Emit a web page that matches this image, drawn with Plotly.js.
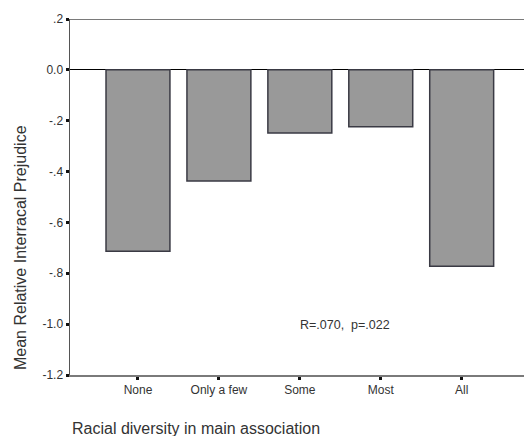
<!DOCTYPE html>
<html>
<head>
<meta charset="utf-8">
<script src="https://cdn.plot.ly/plotly-3.0.1.min.js"></script>
<style>html,body{margin:0;padding:0;background:#fff;overflow:hidden;width:524px;height:436px}#chart{width:524px;height:436px}</style>
</head>
<body>
<div id="chart"></div>
<script>
var categories = ["None", "Only a few", "Some", "Most", "All"];
var meanPrejudice = [-0.713, -0.437, -0.248, -0.224, -0.772];
var yTickVals = [0.2, 0, -0.2, -0.4, -0.6, -0.8, -1.0, -1.2];
var yTickText = [".2", "0.0", "-.2", "-.4", "-.6", "-.8", "-1.0", "-1.2"];
var statText = "R=.070,  p=.022";

var trace = {
  type: "bar",
  x: [0, 1, 2, 3, 4],
  y: meanPrejudice,
  width: 0.79,
  marker: {color: "#999999", line: {color: "#3a3a44", width: 1.5}},
  hoverinfo: "none"
};

var layout = {
  width: 524, height: 436,
  margin: {l: 70, r: 0, t: 19, b: 61},
  paper_bgcolor: "#fff", plot_bgcolor: "#fff",
  font: {family: "Liberation Sans, Arial, sans-serif", size: 12, color: "#333"},
  showlegend: false,
  xaxis: {
    range: [-0.84, 4.77],
    tickvals: [0, 1, 2, 3, 4],
    ticktext: categories,
    showgrid: false, zeroline: false,
    showline: true, mirror: false, linecolor: "#7a7a7a", linewidth: 2,
    ticks: "outside", ticklen: 3, tickwidth: 3, tickcolor: "#111",
    tickfont: {size: 12, color: "#333"}
  },
  yaxis: {
    range: [-1.2, 0.2],
    tickvals: yTickVals,
    ticktext: yTickText,
    showgrid: false,
    zeroline: true, zerolinecolor: "#000", zerolinewidth: 1,
    showline: true, mirror: false, linecolor: "#555", linewidth: 1.5,
    ticks: "outside", ticklen: 3, tickwidth: 3, tickcolor: "#111",
    tickfont: {size: 12, color: "#333"}
  },
  shapes: [
    {type: "line", xref: "paper", yref: "y", x0: 0, x1: 1, y0: 0.2, y1: 0.2,
     line: {color: "#7a7a7a", width: 2}}
  ],
  annotations: [
    {text: statText, x: 2.56, y: -1.004, xref: "x", yref: "y", showarrow: false,
     font: {size: 12.5, color: "#333"}},
    {text: "Mean Relative Interracal Prejudice", xref: "paper", yref: "paper",
     x: -50/454, y: (375-248)/356, xanchor: "center", yanchor: "middle",
     textangle: -90, showarrow: false, font: {size: 16, color: "#333"}},
    {text: "Racial diversity in main association", xref: "paper", yref: "paper",
     x: 0, y: -53/356, xanchor: "left", yanchor: "middle",
     showarrow: false, font: {size: 16, color: "#333"}}
  ]
};

Plotly.newPlot("chart", [trace], layout, {staticPlot: true, displayModeBar: false});
</script>
</body>
</html>
